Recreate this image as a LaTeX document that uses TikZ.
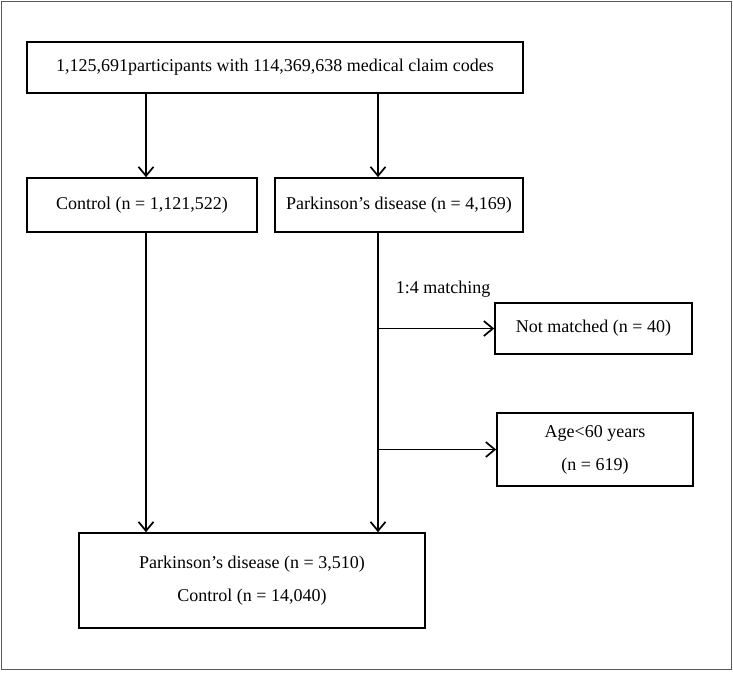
\documentclass[tikz,border=0pt]{standalone}
\usepackage{fontspec}
\setmainfont{Liberation Serif}
\usetikzlibrary{arrows.meta}

\begin{document}
\begin{tikzpicture}
			[x=1pt, y=-1pt, line width=1.7pt, >={Straight Barb[length=9pt,width=15pt]},
			box/.style = {draw, inner sep=0pt, align=center, font=\fontsize{18}{33}\selectfont}]
			\useasboundingbox (0,0) rectangle (733,672);
			\draw[black!65, line width=1.8pt] (1.5,1.5) rectangle (731.5,669.5);
			\node[box, minimum width=496pt, minimum height=51pt] (top) at (275,67.5) {1,125,691participants with 114,369,638 medical claim codes};
			\node[box, minimum width=230pt, minimum height=54pt] (ctrl) at (142,205) {Control (n = 1,121,522)};
			\node[box, minimum width=248pt, minimum height=54pt] (pd) at (399,205) {Parkinson’s disease (n = 4,169)};
			\node[box, minimum width=197pt, minimum height=51pt] (nm) at (593.5,328.5) {Not matched (n = 40)};
			\node[box, minimum width=196pt, minimum height=73pt] (age) at (595,449.5) {Age\textless60 years\\(n = 619)};
			\node[box, minimum width=346pt, minimum height=95pt] (final) at (252,580.5) {Parkinson’s disease (n = 3,510)\\Control (n = 14,040)};
			\node[font=\fontsize{18}{22}\selectfont] (match) at (443,289) {1:4 matching};
			\coordinate (left) at (146,0);
			\coordinate (right) at (378,0);
			\draw[->] (top.south -| left) -- (ctrl.north -| left);
			\draw[->] (top.south -| right) -- (pd.north -| right);
			\draw[->] (ctrl.south -| left) -- (final.north -| left);
			\draw[->] (pd.south -| right) -- (final.north -| right);
			\draw[->] (right |- nm) -- (nm.west);
			\draw[->] (right |- age) -- (age.west);
		\end{tikzpicture}
\end{document}
